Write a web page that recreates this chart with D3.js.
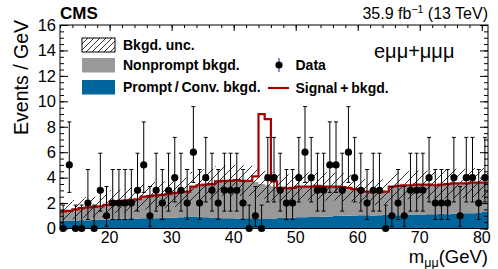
<!DOCTYPE html>
<html>
<head>
<meta charset="utf-8">
<script src="https://cdn.jsdelivr.net/npm/d3@7"></script>
<style>
body { margin: 0; background: #fff; }
svg { display: block; }
text { font-family: "Liberation Sans", Arial, Helvetica, sans-serif; }
</style>
</head>
<body>
<div id="chart"></div>
<script>
// bin lower edges in GeV (1 GeV bins)
var massLow = [12,13,14,15,16,17,18,19,20,21,22,23,24,25,26,27,28,29,30,31,32,33,34,35,36,37,38,39,40,41,42,43,44,45,46,47,48,49,50,51,52,53,54,55,56,57,58,59,60,61,62,63,64,65,66,67,68,69,70,71,72,73,74,75,76,77,78,79,80];
var binWidth = 1;

// observed events per bin
var dataCounts = [0,5,0,0,2,0,3,1,2,2, 2,2,3,5,1,3,2,3,4,3, 2,6,2,4,3,2,3,3,3,2, 0,1,0,4,4,3,2,2,4,6, 4,3,3,5,5,3,6,4,3,2, 3,3,0,1,2,1,3,3,3,4, 2,2,2,4,1,4,4,2,4];

// prompt / conversion background (bottom of stack)
var promptBkg = [0.6,0.62,0.62,0.65,0.65,0.68,0.7,0.7, 0.75,0.78,0.78,0.8,0.78,0.8,0.82,0.8,0.82,0.85, 0.85,0.88,0.9,0.95,0.92,0.88,0.85,0.82,0.8,0.8, 0.78,0.8,0.8,0.78,0.75,0.75,0.78,0.82,0.85,0.85, 0.88,0.88,0.9,0.9,0.92,0.95,0.98,1.0,1.0,1.02, 1.05,1.05,1.02,1.05,1.08,1.05,1.05,1.08,1.1,1.1, 1.1,1.12,1.12,1.15,1.12,1.15,1.18,1.2,1.2,1.25,1.3];

// total background (prompt + nonprompt)
var totalBkg = [1.35,1.38,1.5,1.6,1.65,1.7,1.75,1.85, 2.1,2.15,2.2,2.25,2.3,2.5,2.55,2.6,2.65,2.7, 2.8,2.85,2.9,3.3,3.4,3.45,3.5,3.7,3.75,3.75, 3.8,3.75,3.75,3.65,3.5,3.4,3.3,3.2,3.15,3.2, 3.3,3.3,3.3,3.35,3.3,3.3,3.3,3.25,3.2,3.1, 3.0,2.9,2.85,2.85,2.9,3.3,3.35,3.4,3.4,3.45, 3.45,3.45,3.4,3.45,3.5,3.55,3.55,3.55,3.6,3.6,3.6];

// background uncertainty (half width of hatched band)
var bkgUnc = [0.7,0.7,0.75,0.75,0.8,0.8,0.85,0.85, 0.9,0.9,0.95,0.95,1.0,1.0,1.0,1.05,1.05,1.05, 1.1,1.1,1.1,1.15,1.15,1.2,1.2,1.2,1.2,1.2, 1.2,1.2,1.2,1.2,1.15,1.15,1.1,1.1,1.1,1.1, 1.1,1.1,1.1,1.1,1.1,1.1,1.1,1.1,1.05,1.05, 1.0,1.0,1.0,1.0,1.0,1.05,1.1,1.1,1.1,1.1, 1.1,1.1,1.1,1.1,1.15,1.15,1.15,1.15,1.15,1.15,1.15];

// signal only (added on top of background for the red line)
var signalOnly = [0,0,0,0,0,0,0,0, 0,0,0,0,0,0,0,0,0,0, 0,0,0,0,0,0,0,0,0,0, 0,0,0,0.45,5.5,5.2,0.4,0,0,0, 0,0,0,0,0,0,0,0,0,0, 0,0,0,0,0,0,0,0,0,0, 0,0,0,0,0,0,0,0,0,0,0];

// Garwood 68% intervals: down / up errors for n = 0..6
var poissonDown = [0, 0.827, 1.292, 1.633, 1.914, 2.160, 2.380];
var poissonUp = [1.841, 2.300, 2.638, 2.918, 3.163, 3.382, 3.584];

var yTicks = [0,2,4,6,8,10,12,14,16];
var xTicks = [20,30,40,50,60,70,80];

var margin = {top: 25, right: 10, bottom: 40.5, left: 60};
var outer_width = 498, outer_height = 269;
var w = outer_width - margin.left - margin.right;
var h = outer_height - margin.top - margin.bottom;

var blue = "#00659b", grey = "#999999", red = "#a80000";

var svg = d3.select("#chart").append("svg")
    .attr("width", outer_width).attr("height", outer_height);

var defs = svg.append("defs");
function hatch(id, s){
    var p = defs.append("pattern").attr("id", id)
        .attr("patternUnits", "userSpaceOnUse")
        .attr("width", s).attr("height", s);
    p.append("path")
        .attr("d", "M0," + s + "L" + s + ",0M" + (-s/2) + "," + (s/2) + "L" + (s/2) + "," + (-s/2) + "M" + (s/2) + "," + (s*1.5) + "L" + (s*1.5) + "," + (s/2))
        .attr("stroke", "#000").attr("stroke-width", 0.8);
}
hatch("hatchPlot", 9);
hatch("hatchLeg", 6);

var g = svg.append("g").attr("transform", "translate(" + margin.left + "," + margin.top + ")");

var x = d3.scaleLinear().domain([12, 81]).range([0, w]);
var y = d3.scaleLinear().domain([0, 16]).range([h, 0]);

function steps(vals){
    var pts = [];
    massLow.forEach(function(m, i){
        pts.push([m, vals[i]]);
        pts.push([m + binWidth, vals[i]]);
    });
    return pts;
}

// bottom axis ticks go under the fills
var xAxisB = g.append("g").attr("transform", "translate(0," + h + ")");
xAxisB.call(d3.axisTop(x).tickValues(d3.range(12, 82, 2)).tickSize(3).tickFormat(""));
xAxisB.call(function(s){ s.append("g").call(d3.axisTop(x).tickValues(xTicks).tickSize(6).tickFormat("")); });
xAxisB.selectAll(".domain").remove();

// stacked backgrounds
var promptPts = steps(promptBkg);
var totPts = steps(totalBkg);
g.append("path")
    .datum(promptPts)
    .attr("fill", blue)
    .attr("d", d3.area().x(function(d){ return x(d[0]); }).y0(y(0)).y1(function(d){ return y(d[1]); }));
g.append("path")
    .datum(totPts.map(function(d, i){ return [d[0], promptPts[i][1], d[1]]; }))
    .attr("fill", grey)
    .attr("d", d3.area().x(function(d){ return x(d[0]); }).y0(function(d){ return y(d[1]); }).y1(function(d){ return y(d[2]); }));

// uncertainty band
var bandPts = [];
massLow.forEach(function(m, i){
    var lo = Math.max(0, totalBkg[i] - bkgUnc[i]), hi = totalBkg[i] + bkgUnc[i];
    bandPts.push([m, lo, hi]);
    bandPts.push([m + binWidth, lo, hi]);
});
g.append("path")
    .datum(bandPts)
    .attr("fill", "url(#hatchPlot)")
    .attr("d", d3.area().x(function(d){ return x(d[0]); }).y0(function(d){ return y(d[1]); }).y1(function(d){ return y(d[2]); }));

// signal + background line
var sigPts = steps(totalBkg.map(function(b, i){ return b + signalOnly[i]; }));
g.append("path")
    .datum(sigPts)
    .attr("fill", "none").attr("stroke", red).attr("stroke-width", 2.2)
    .attr("d", d3.line().x(function(d){ return x(d[0]); }).y(function(d){ return y(d[1]); }));

// frame and remaining axes
g.append("rect").attr("width", w).attr("height", h)
    .attr("fill", "none").attr("stroke", "#000").attr("stroke-width", 1);

function ticksOn(axisFn, transform, vals, size){
    var a = g.append("g").attr("transform", transform)
        .call(axisFn.tickValues(vals).tickSize(size).tickFormat(""));
    a.selectAll(".domain").remove();
}
var yMinor = d3.range(0, 16.01, 0.5);
ticksOn(d3.axisRight(y), "translate(0,0)", yMinor, 4);
ticksOn(d3.axisRight(y), "translate(0,0)", yTicks, 8);
ticksOn(d3.axisLeft(y), "translate(" + w + ",0)", yMinor, 4);
ticksOn(d3.axisLeft(y), "translate(" + w + ",0)", yTicks, 8);
ticksOn(d3.axisBottom(x), "translate(0,0)", d3.range(12, 82, 2), 3);
ticksOn(d3.axisBottom(x), "translate(0,0)", xTicks, 6);

// tick labels
g.selectAll(".ylab").data(yTicks).enter().append("text")
    .attr("x", -4).attr("y", function(d){ return y(d); })
    .attr("dy", "0.35em").attr("text-anchor", "end")
    .attr("font-size", 16.5).text(function(d){ return d; });
g.selectAll(".xlab").data(xTicks).enter().append("text")
    .attr("x", function(d){ return x(d); }).attr("y", h + 14)
    .attr("text-anchor", "middle")
    .attr("font-size", 16).text(function(d){ return d; });

// data points with error bars
var pts = g.append("g");
dataCounts.forEach(function(n, i){
    var cx = x(massLow[i] + binWidth / 2);
    var lo = n - poissonDown[n], hi = n + poissonUp[n];
    pts.append("line").attr("x1", cx).attr("x2", cx).attr("y1", y(lo)).attr("y2", y(hi))
        .attr("stroke", "#000").attr("stroke-width", 1);
    pts.append("line").attr("x1", cx - 2).attr("x2", cx + 2).attr("y1", y(hi)).attr("y2", y(hi))
        .attr("stroke", "#000").attr("stroke-width", 1);
    if (n > 0) {
        pts.append("line").attr("x1", cx - 2).attr("x2", cx + 2).attr("y1", y(lo)).attr("y2", y(lo))
            .attr("stroke", "#000").attr("stroke-width", 1);
    }
    pts.append("circle").attr("cx", cx).attr("cy", y(n)).attr("r", 3.6).attr("fill", "#000");
});

// legend
var leg = svg.append("g");
leg.append("rect").attr("x", 82).attr("y", 38).attr("width", 33).attr("height", 14)
    .attr("fill", "url(#hatchLeg)").attr("stroke", "#000").attr("stroke-width", 1);
leg.append("rect").attr("x", 82).attr("y", 58).attr("width", 33).attr("height", 14.5).attr("fill", grey);
leg.append("rect").attr("x", 82).attr("y", 80).attr("width", 33).attr("height", 14.5).attr("fill", blue);
var legText = [["Bkgd. unc.", 123, 45], ["Nonprompt bkgd.", 123, 65.5], ["Prompt\u2009/\u2009Conv. bkgd.", 123, 87.5],
               ["Data", 295.5, 65.5], ["Signal\u2009+\u2009bkgd.", 295.5, 88]];
legText.forEach(function(t){
    leg.append("text").attr("x", t[1]).attr("y", t[2]).attr("dy", "0.35em")
        .attr("font-size", 14).attr("font-weight", "bold").text(t[0]);
});
leg.append("line").attr("x1", 279).attr("x2", 279).attr("y1", 58).attr("y2", 72)
    .attr("stroke", "#2a2a8a").attr("stroke-width", 1);
leg.append("circle").attr("cx", 279).attr("cy", 65).attr("r", 3.6).attr("fill", "#000");
leg.append("line").attr("x1", 268).attr("x2", 289).attr("y1", 88).attr("y2", 88)
    .attr("stroke", red).attr("stroke-width", 2.2);

// channel label
svg.append("text").attr("x", 374).attr("y", 58).attr("font-size", 20).text("e\u03bc\u03bc+\u03bc\u03bc\u03bc");

// header
svg.append("text").attr("x", 60).attr("y", 19).attr("font-size", 17).attr("font-weight", "bold").text("CMS");
var lumi = svg.append("text").attr("x", 488).attr("y", 19).attr("text-anchor", "end").attr("font-size", 16);
lumi.append("tspan").text("35.9 fb");
lumi.append("tspan").attr("font-size", 10.5).attr("dy", -6).text("\u22121");
lumi.append("tspan").attr("dy", 6).text(" (13 TeV)");

// axis titles
svg.append("text").attr("transform", "translate(28,20) rotate(-90)")
    .attr("text-anchor", "end").attr("font-size", 19.5).text("Events / GeV");
var xt = svg.append("text").attr("x", 488).attr("y", 262.5).attr("text-anchor", "end").attr("font-size", 18.5);
xt.append("tspan").text("m");
xt.append("tspan").attr("font-size", 12.5).attr("dy", 4).text("\u03bc\u03bc");
xt.append("tspan").attr("dy", -4).text("(GeV)");
</script>
</body>
</html>
